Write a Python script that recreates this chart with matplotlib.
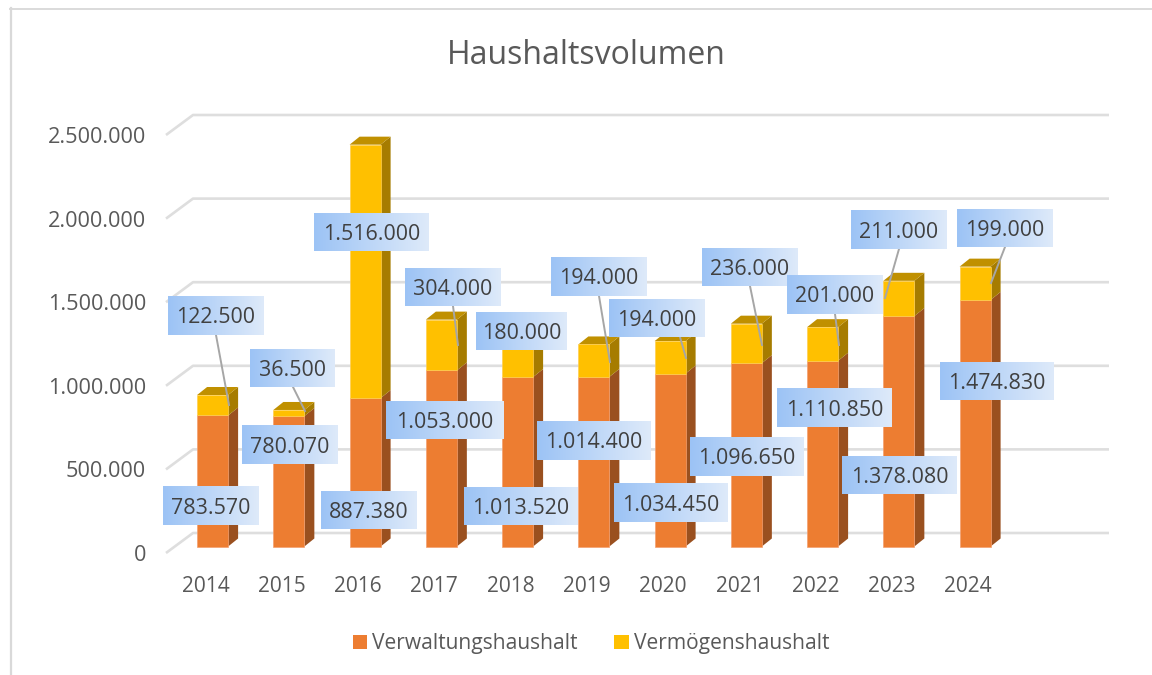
import numpy as np
import matplotlib
matplotlib.use("Agg")
import matplotlib.pyplot as plt
from matplotlib.patches import Polygon, Patch
from matplotlib.lines import Line2D

plt.rcParams['font.family'] = ['Open Sans', 'DejaVu Sans']

# ---- data ----
years = [2014, 2015, 2016, 2017, 2018, 2019, 2020, 2021, 2022, 2023, 2024]
verwaltung = [783570, 780070, 887380, 1053000, 1013520, 1014400, 1034450, 1096650, 1110850, 1378080, 1474830]
vermoegen = [122500, 36500, 1516000, 304000, 180000, 194000, 194000, 236000, 201000, 211000, 199000]
series_names = ['Verwaltungshaushalt', 'Vermögenshaushalt']
y_ticks = [0, 500000, 1000000, 1500000, 2000000, 2500000]
title = 'Haushaltsvolumen'

# ---- layout (pixels of the 1152x675 canvas) ----
W, H = 1152, 675
AX_L, AX_R, AX_T, AX_B = 166, 1082, 135, 553
X0, DX = 212.6, 76.25          # centre of first bar, bar spacing
BAR_W = 31
DEPTH_X, DEPTH_Y = 10, 8       # bar depth
BASE_PX = 546.5
WALL_X, WALL_Y = 27, 20        # wall depth
# label boxes: left, top, right, bottom
boxes_low = [(163, 486, 259, 525), (242, 426, 338, 464), (321, 491, 417, 529),
             (386, 401, 504, 439), (464, 487, 578, 525), (537, 421, 650, 460),
             (614, 484, 728, 522), (690, 437, 804, 476), (777, 388, 892, 427),
             (842, 456, 957, 494), (940, 362, 1054, 400)]
boxes_high = [(168, 296, 264, 335), (250, 349, 335, 387), (314, 213, 429, 251),
              (405, 268, 501, 306), (476, 312, 567, 350), (551, 257, 647, 296),
              (609, 299, 705, 337), (702, 248, 798, 286), (787, 275, 883, 314),
              (851, 211, 947, 249), (957, 209, 1053, 247)]
# leader lines: x0, y0, x1, y1 (None = no leader)
leaders = [(216, 335, 229, 405), (293, 387, 305, 411), None,
           (453, 306, 458, 345), None, (599, 296, 610, 362),
           (680, 337, 686, 358), (750, 286, 762, 345), (835, 314, 839, 345),
           (899, 249, 885, 298), (1005, 247, 991, 283)]

ORANGE, ORANGE_SIDE = '#ED7D31', '#9A501F'
YELLOW, YELLOW_SIDE, YELLOW_TOP = '#FFC000', '#A67C00', '#C09000'
GRID = '#DEDEDE'
TEXT = '#595959'
LABEL = '#404040'

fig = plt.figure(figsize=(W / 100, H / 100), dpi=100, facecolor='white')
ax = fig.add_axes([AX_L / W, 1 - AX_B / H, (AX_R - AX_L) / W, (AX_B - AX_T) / H])
ax.set_xlim((AX_L - X0) / DX, (AX_R - X0) / DX)
ax.set_ylim(y_ticks[0], y_ticks[-1])
for s in ax.spines.values():
    s.set_visible(False)
ax.patch.set_alpha(0)

UX = 1 / DX
UY = y_ticks[-1] / (AX_B - AX_T)


def px2x(p):
    return (p - X0) * UX


def px2y(p):
    return (AX_B - p) * UY


# frame of the chart area
fig.add_artist(Line2D([10.5 / W, 10.5 / W], [0, 1 - 8 / H], color='#D9D9D9', lw=1.6))
fig.add_artist(Line2D([9.5 / W, 1], [1 - 8.7 / H, 1 - 8.7 / H], color='#DADADA', lw=1.4))

# gridlines with side-wall stub
xl, xr = ax.get_xlim()
for v in y_ticks:
    ax.plot([xl, xl + WALL_X * UX, xr + WALL_X * UX],
            [v, v + WALL_Y * UY, v + WALL_Y * UY],
            color=GRID, lw=1.9, clip_on=False, zorder=1, solid_capstyle='butt')

# 3D bars
base = (AX_B - BASE_PX) * UY
hw = BAR_W / 2 * UX
dx, dy = DEPTH_X * UX, DEPTH_Y * UY


def side(ax_, x, y0, y1, col, z):
    ax_.add_patch(Polygon([(x + hw, y0), (x + hw + dx, y0 + dy),
                           (x + hw + dx, y1 + dy), (x + hw, y1)],
                          closed=True, fc=col, ec='none', zorder=z, clip_on=False))


for i in range(len(years)):
    z = 3 + i * 0.01
    v0 = base + verwaltung[i]
    v1 = v0 + vermoegen[i]
    side(ax, i, base, v0, ORANGE_SIDE, z)
    side(ax, i, v0, v1, YELLOW_SIDE, z)
    ax.add_patch(Polygon([(i - hw, v1), (i + hw, v1), (i + hw + dx, v1 + dy), (i - hw + dx, v1 + dy)],
                         closed=True, fc=YELLOW_TOP, ec='none', zorder=z, clip_on=False))
    ax.bar(i, verwaltung[i], bottom=base, width=2 * hw, color=ORANGE, zorder=z + 0.001,
           edgecolor='#F4A070', linewidth=0.5, clip_on=False)
    ax.bar(i, vermoegen[i], bottom=v0, width=2 * hw, color=YELLOW, zorder=z + 0.001,
           edgecolor='#FFCF50', linewidth=0.5, clip_on=False)

# leader lines
for ld in leaders:
    if ld is not None:
        ax.plot([px2x(ld[0]), px2x(ld[2])], [px2y(ld[1]), px2y(ld[3])], color='#A6A6A6',
                lw=1.4, zorder=5, clip_on=False)

# data labels with gradient background
grad = np.zeros((1, 256, 3))
grad[0, :, 0] = np.linspace(156, 222, 256) / 255
grad[0, :, 1] = np.linspace(195, 234, 256) / 255
grad[0, :, 2] = np.linspace(245, 250, 256) / 255


def fmt(v):
    return f'{v:,}'.replace(',', '.')


for vals, bxs in ((verwaltung, boxes_low), (vermoegen, boxes_high)):
    for v, b in zip(vals, bxs):
        ax.imshow(grad, extent=(px2x(b[0]), px2x(b[2]), px2y(b[3]), px2y(b[1])), aspect='auto',
                  zorder=6, clip_on=False, interpolation='bilinear')
        ax.text(px2x((b[0] + b[2]) / 2), px2y((b[1] + b[3]) / 2), fmt(v), ha='center', va='center_baseline',
                fontsize=15.4, color=LABEL, zorder=7, clip_on=False)

ax.set_xlim(xl, xr)
ax.set_ylim(y_ticks[0], y_ticks[-1])

# axes ticks
ax.set_yticks(y_ticks)
ax.set_yticklabels([fmt(v) for v in y_ticks])
ax.set_xticks([i - 7 * UX for i in range(len(years))])
ax.set_xticklabels([str(y) for y in years])
ax.tick_params(axis='y', length=0, pad=14.5, labelsize=15.6, labelcolor=TEXT)
ax.tick_params(axis='x', length=0, pad=16.5, labelsize=15, labelcolor=TEXT)

ax.set_title(title, x=(586 - AX_L) / (AX_R - AX_L), y=1 + (AX_T - 64) / (AX_B - AX_T),
             va='center', fontsize=23, color=TEXT)

handles = [Patch(fc=ORANGE, ec='none'), Patch(fc=YELLOW, ec='none')]
fig.legend(handles, series_names, loc='center', bbox_to_anchor=(591 / W, 1 - 643.5 / H), ncol=2,
           frameon=False, fontsize=15.1, labelcolor=TEXT, handlelength=0.67, handleheight=0.67,
           handletextpad=0.24, columnspacing=1.76, borderpad=0)

fig.savefig('out.png', dpi=100, facecolor='white')
